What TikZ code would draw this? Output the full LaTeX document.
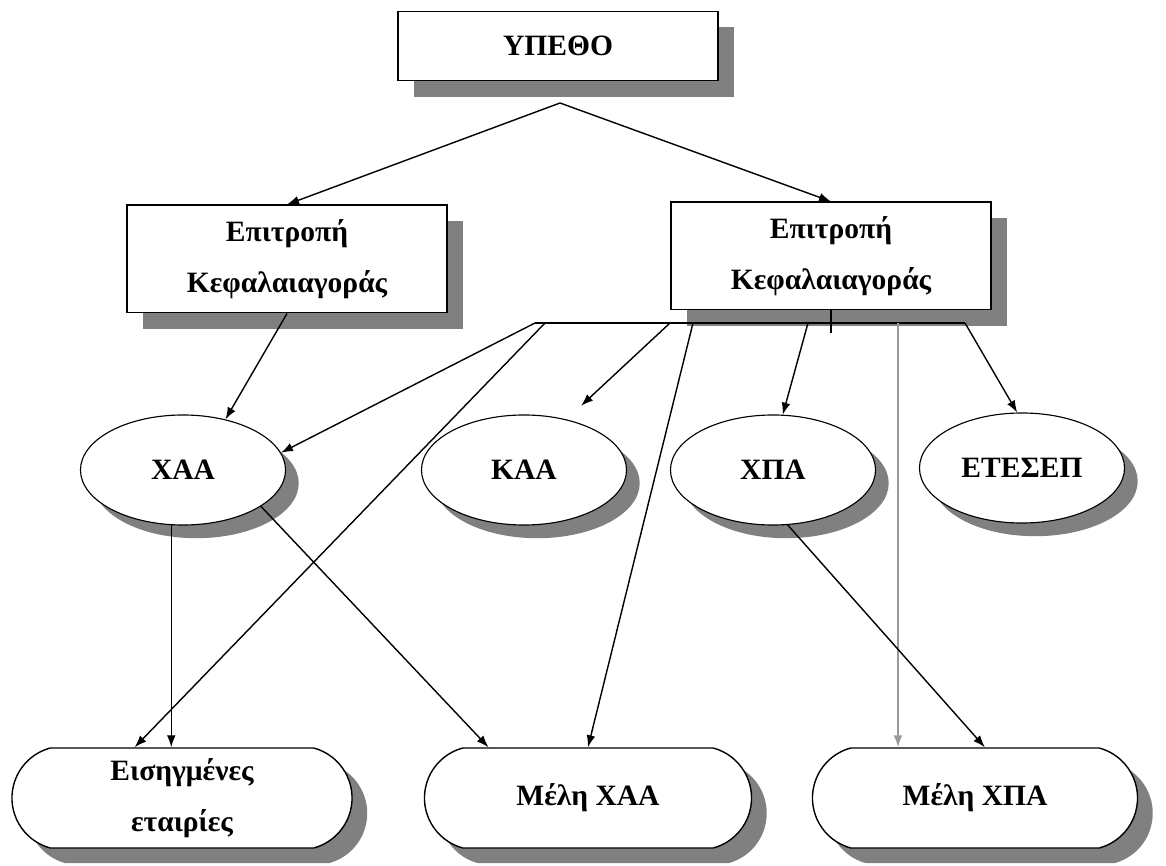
\documentclass[tikz,border=0pt]{standalone}
\usepackage{fontspec}
\setmainfont{Liberation Serif}
\usetikzlibrary{shapes.misc,shapes.geometric,shadows,arrows.meta}

\begin{document}
\begin{tikzpicture}[x=0.025cm,y=-0.025cm,
    font=\bfseries\fontsize{21}{36}\selectfont,
    caja/.style={draw,line width=1.4pt,fill=white,inner sep=0pt,align=center,
      drop shadow={shadow xshift=0.4cm,shadow yshift=-0.4cm,fill=black!50,opacity=1}},
    elipse/.style={ellipse,draw,line width=0.8pt,fill=white,inner sep=0pt,
      minimum width=5.125cm,minimum height=2.75cm,
      drop shadow={shadow xshift=0.33cm,shadow yshift=-0.33cm,fill=black!50,opacity=1}},
    ovalo/.style={rounded rectangle,rounded rectangle arc length=150,draw,line width=1pt,
      fill=white,inner sep=0pt,minimum height=2.5cm,align=center,
      drop shadow={shadow xshift=0.38cm,shadow yshift=-0.38cm,fill=black!50,opacity=1}},
    flecha/.style={-{Latex[length=3mm,width=2.2mm]},line width=1pt}]
  \useasboundingbox (0,0) rectangle (1166,866);

  % Cajas
  \node[caja,minimum width=7.975cm,minimum height=1.725cm] (ypetho) at (558,46) {ΥΠΕΘΟ};
  \node[caja,minimum width=7.975cm,minimum height=2.675cm] (epL) at (287,259) {Επιτροπή\\Κεφαλαιαγοράς};
  \node[caja,minimum width=7.975cm,minimum height=2.675cm] (epR) at (831,256) {Επιτροπή\\Κεφαλαιαγοράς};

  % Elipses
  \node[elipse] (xaa) at (183,470) {ΧΑΑ};
  \node[elipse] (kaa) at (524,470) {ΚΑΑ};
  \node[elipse] (xpa) at (773,470) {ΧΠΑ};
  \node[elipse] (etesep) at (1022,468) {ΕΤΕΣΕΠ};

  % Ovalos
  \node[ovalo,minimum width=8.5cm] (eis) at (182,798) {Εισηγμένες\\εταιρίες};
  \node[ovalo,minimum width=8.175cm] (mxaa) at (588,798) {Μέλη ΧΑΑ};
  \node[ovalo,minimum width=8.125cm] (mxpa) at (975,798) {Μέλη ΧΠΑ};

  % Puntos
  \coordinate (apex) at (560,103);
  \coordinate (bus1) at (535,323);
  \coordinate (bus2) at (545,323);
  \coordinate (bus3) at (670,323);
  \coordinate (bus4) at (693,323);
  \coordinate (bus5) at (808,323);
  \coordinate (bus6) at (898,323);
  \coordinate (bus7) at (965,323);

  % Flechas
  \draw[flecha] (apex) -- (epL.north);
  \draw[flecha] (apex) -- (epR.north);
  \draw[flecha] (epL.south) -- (xaa.50);
  \draw[line width=1pt] (bus1) -- (bus7);
  \draw[line width=1pt] (epR.south) -- ++(0,23);
  \draw[flecha] (bus1) -- (xaa.10);
  \draw[flecha] (bus2) -- (eis.133);
  \draw[flecha,shorten >=0.5cm] (bus3) -- (kaa.50);
  \draw[flecha] (bus4) -- (mxaa.north);
  \draw[flecha] (bus5) -- (xpa.80);
  \draw[flecha,black!40,line width=1.2pt] (bus6) -- (bus6 |- mxpa.north);
  \draw[flecha] (bus7) -- (etesep.95);
  \draw[flecha] (xaa.258) -- (xaa.258 |- eis.north);
  \draw[flecha] (xaa.-25) -- (mxaa.153);
  \draw[flecha] (xpa.-75) -- (mxpa.79);
\end{tikzpicture}
\end{document}
